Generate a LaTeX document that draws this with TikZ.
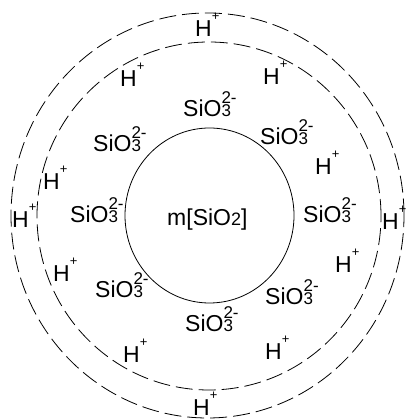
\documentclass[tikz,border=0pt]{standalone}
\usepackage{fontspec}
\setmainfont{Liberation Sans}
\newcommand{\sioion}{SiO\rlap{\raisebox{13pt}{\fontsize{17}{17}\selectfont 2-}}{\fontsize{17}{17}\selectfont 3}}
\newcommand{\hion}{H\raisebox{16pt}{\fontsize{13}{13}\selectfont +}}
\begin{document}
\begin{tikzpicture}[x=1pt,y=1pt,
  lbl/.style={inner sep=0pt,anchor=base west,font=\fontsize{23}{23}\selectfont},
  shell/.style={line width=0.8pt,dash pattern=on 17pt off 6pt},
  core/.style={line width=0.8pt}]
\useasboundingbox (0,0) rectangle (407,419);
% shells (y = 419 - image y)
\draw[shell] (207.5,203.5) ellipse [x radius=196.5, y radius=202.5];
\draw[shell] (209,203) ellipse [x radius=172, y radius=174];
\draw[core] (209.5,203.5) ellipse [x radius=84.5, y radius=87.5];
% labels
\node[lbl] (h1) at (195,419-37) {\hion};
\node[lbl] (h2) at (120,419-87) {\hion};
\node[lbl] (h3) at (263,419-85) {\hion};
\node[lbl] (s1) at (183,419-117) {\sioion};
\node[lbl] (s2) at (93,419-152) {\sioion};
\node[lbl] (s3) at (260,419-145) {\sioion};
\node[lbl] (h4) at (315,419-175) {\hion};
\node[lbl] (h5) at (43,419-190) {\hion};
\node[lbl] (h6) at (12,419-228) {\hion};
\node[lbl] (s4) at (70,419-223) {\sioion};
\node[lbl] (m) at (167,419-226) {m[SiO{\fontsize{18}{18}\selectfont 2}]};
\node[lbl] (s5) at (303,419-223) {\sioion};
\node[lbl] (h7) at (382,419-230) {\hion};
\node[lbl] (h8) at (335,419-273) {\hion};
\node[lbl] (h9) at (53,419-282) {\hion};
\node[lbl] (s6) at (95,419-298) {\sioion};
\node[lbl] (s7) at (265,419-305) {\sioion};
\node[lbl] (s8) at (185,419-332) {\sioion};
\node[lbl] (h10) at (123,419-363) {\hion};
\node[lbl] (h11) at (265,419-360) {\hion};
\node[lbl] (h12) at (193,419-416) {\hion};
\end{tikzpicture}
\end{document}
